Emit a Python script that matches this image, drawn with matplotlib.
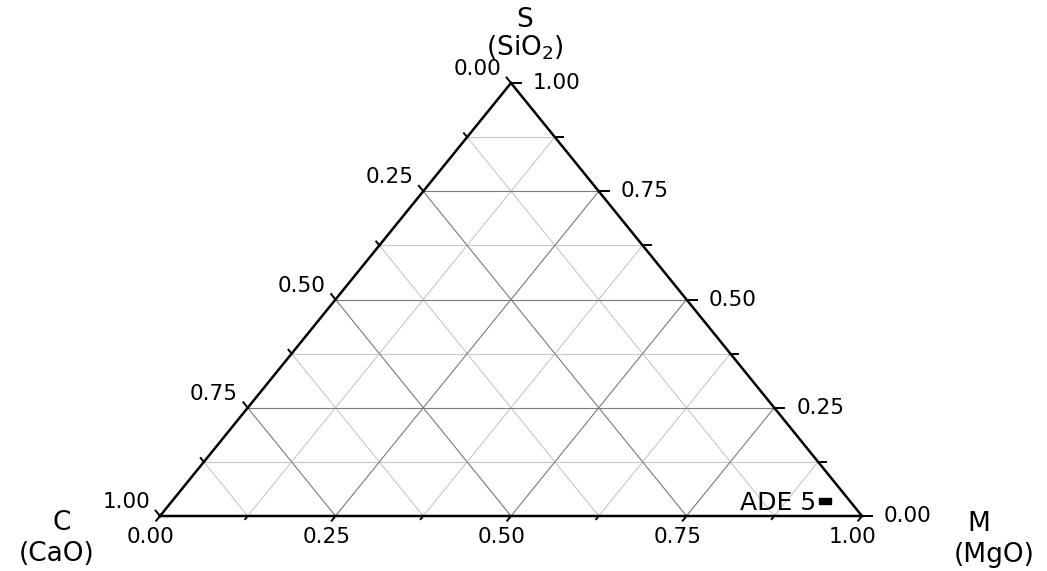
import numpy as np
import matplotlib
matplotlib.use("Agg")
import matplotlib.pyplot as plt

plt.rcParams['font.family'] = ['DejaVu Sans']

# sample composition (mass fractions)
samples = ['ADE 5']
frac_C = [0.035]   # CaO
frac_S = [0.035]   # SiO2
frac_M = [0.93]    # MgO

tick_vals = [0.0, 0.25, 0.5, 0.75, 1.0]
tick_labels = ['0.00', '0.25', '0.50', '0.75', '1.00']
minor_vals = [0.125, 0.375, 0.625, 0.875]

W, H = 1047, 571
X0, X1 = 160, 862      # pixel x of C and M corners
YB, YT = 516, 83       # pixel y of base and S apex
sx = X1 - X0
sy = YB - YT


def tern(s, m):
    # cartesian position for given S and M fractions
    return m + s / 2.0, s


def px(dx, dy):
    # pixel offset -> data offset (dy positive = up)
    return dx / sx, dy / sy


fig = plt.figure(figsize=(W / 100, H / 100), dpi=100)
ax = fig.add_axes([0, 0, 1, 1])
ax.set_xlim(-X0 / sx, (W - X0) / sx)
ax.set_ylim(-(H - YB) / sy, YB / sy)
ax.axis('off')

# grid
for v in minor_vals + tick_vals[1:-1]:
    col = '#7a7a7a' if v in tick_vals else '#c8c8c8'
    # constant S (horizontal)
    a, b = tern(v, 0), tern(v, 1 - v)
    ax.plot([a[0], b[0]], [a[1], b[1]], color=col, lw=0.8, zorder=1)
    # constant M (parallel to C-S edge)
    a, b = tern(0, v), tern(1 - v, v)
    ax.plot([a[0], b[0]], [a[1], b[1]], color=col, lw=0.8, zorder=1)
    # constant C (parallel to S-M edge)
    a, b = tern(0, 1 - v), tern(1 - v, 0)
    ax.plot([a[0], b[0]], [a[1], b[1]], color=col, lw=0.8, zorder=1)

# triangle frame
corners = [tern(0, 0), tern(0, 1), tern(1, 0), tern(0, 0)]
ax.plot([p[0] for p in corners], [p[1] for p in corners], color='black',
        lw=1.8, solid_joinstyle='miter', zorder=3)

# unit directions of ticks in pixels
ul = np.array([-351.0, 433.0]); ul /= np.hypot(*ul)   # up-left (left axis)
dl = np.array([-351.0, -433.0]); dl /= np.hypot(*dl)  # down-left (bottom axis)
rt = np.array([1.0, 0.0])                             # right (right axis)

fs = 15.5
fs_title = 19
for vals, major in ((tick_vals, True), (minor_vals, False)):
    for v in vals:
        ln = 7 if major else 5
        # left axis: C fraction, 0 at top
        p = tern(1 - v, 0)
        d = px(*(ul * ln))
        ax.plot([p[0], p[0] + d[0]], [p[1], p[1] + d[1]], color='black', lw=1.4, zorder=3)
        # right axis: S fraction
        p = tern(v, 1 - v)
        d = px(*(rt * (ln + 3)))
        ax.plot([p[0], p[0] + d[0]], [p[1], p[1] + d[1]], color='black', lw=1.4, zorder=3)
        # bottom axis: M fraction
        p = tern(0, v)
        d = px(*(dl * (ln - 1)))
        ax.plot([p[0], p[0] + d[0]], [p[1], p[1] + d[1]], color='black', lw=1.4, zorder=3)

for v, lab in zip(tick_vals, tick_labels):
    ax.annotate(lab, tern(1 - v, 0), xytext=(-10, 14), textcoords='offset pixels',
                ha='right', va='center', fontsize=fs)
    ax.annotate(lab, tern(v, 1 - v), xytext=(22, 0), textcoords='offset pixels',
                ha='left', va='center', fontsize=fs)
    ax.annotate(lab, tern(0, v), xytext=(-9, -21), textcoords='offset pixels',
                ha='center', va='center', fontsize=fs)

# vertex titles
ax.annotate('S', tern(1, 0), xytext=(14, 63), textcoords='offset pixels',
            ha='center', va='center', fontsize=fs_title)
ax.annotate('(SiO$_2$)', tern(1, 0), xytext=(14, 35), textcoords='offset pixels',
            ha='center', va='center', fontsize=fs_title)
ax.annotate('C', tern(0, 0), xytext=(-98, -7), textcoords='offset pixels',
            ha='center', va='center', fontsize=fs_title)
ax.annotate('(CaO)', tern(0, 0), xytext=(-103, -38), textcoords='offset pixels',
            ha='center', va='center', fontsize=fs_title)
ax.annotate('M', tern(0, 1), xytext=(117, -8), textcoords='offset pixels',
            ha='center', va='center', fontsize=fs_title)
ax.annotate('(MgO)', tern(0, 1), xytext=(132, -39), textcoords='offset pixels',
            ha='center', va='center', fontsize=fs_title)

# samples
box = [(-1, -0.6), (1, -0.6), (1, 0.6), (-1, 0.6), (-1, -0.6)]
for name, s, m in zip(samples, frac_S, frac_M):
    x, y = tern(s, m)
    ax.plot(x, y, marker=box, ms=8, color='black', ls='none', zorder=4)
    ax.annotate(name, (x, y), xytext=(-9, -2), textcoords='offset pixels',
                ha='right', va='center', fontsize=18, zorder=4)

fig.savefig('out.png', dpi=100, facecolor='white')
